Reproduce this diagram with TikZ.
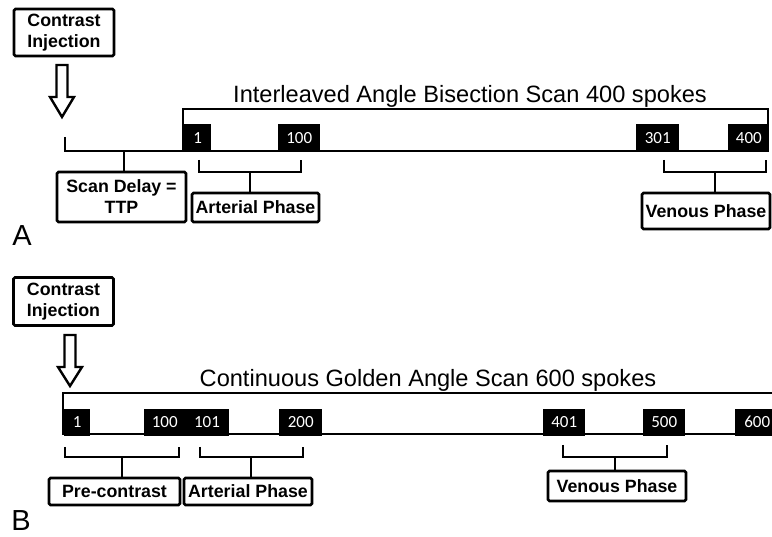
\documentclass[tikz,border=0pt]{standalone}
\usepackage{fontspec}
\setmainfont{Liberation Sans}
\newfontfamily\numfont{Carlito}
\begin{document}
\begin{tikzpicture}[x=1pt,y=-1pt,line width=2.6pt,
  lbl/.style={draw,line width=2.6pt,rounded corners=1.5pt,align=center,inner sep=0pt,
    font=\fontsize{17.8}{21}\selectfont\bfseries},
  blk/.style={fill=black,text=white,inner sep=0pt,anchor=north west,
    font=\numfont\fontsize{17}{17}\selectfont},
  ttl/.style={font=\fontsize{23.6}{25}\selectfont,anchor=base,inner sep=0pt},
  panel/.style={font=\fontsize{29}{30}\selectfont,inner sep=0pt},
  brk/.style={line width=2.6pt},
  hollow/.style={draw,fill=white,line width=2.4pt,line join=miter}]
\useasboundingbox (0,0) rectangle (772,537);
\fill[white] (0,0) rectangle (772,537);

% ---------------- Panel A ----------------
\node[lbl,minimum width=100,minimum height=47] (ciA) at (64,32.5) {Contrast\\Injection};
\draw[hollow] (56.5,65) -- (67.5,65) -- (67.5,97) -- (74,97) -- (62,117) -- (50,97) -- (56.5,97) -- cycle;

\node[ttl] (ttlA) at (470,103) {Interleaved Angle Bisection Scan 400 spokes};
\draw (183,151) -- (183,109) -- (768,109) -- (768,151);
\draw (65,137) -- (65,151) -- (768,151);
\node[blk,minimum width=27,minimum height=28] (a1) at (183,123) {1};
\node[blk,minimum width=42,minimum height=28] (a100) at (277,123) {100};
\node[blk,minimum width=43,minimum height=28] (a301) at (635,123) {301};
\node[blk,minimum width=41,minimum height=28] (a400) at (727,123) {400};

\node[lbl,minimum width=129,minimum height=50] (sd) at (121.5,197) {Scan Delay =\\TTP};
\node[lbl,minimum width=127,minimum height=29] (artA) at (255.5,207.5) {Arterial Phase};
\node[lbl,minimum width=128,minimum height=36] (venA) at (706,211) {Venous Phase};

\coordinate (sdc) at (124,151);
\draw[brk] (sdc) -- (sdc |- sd.north);
\coordinate (artAc) at (250,172);
\draw[brk] (199,160) -- (199,172) -- (301,172) -- (301,160);
\draw[brk] (artAc) -- (artAc |- artA.north);
\coordinate (venAc) at (715,172);
\draw[brk] (664,160) -- (664,172) -- (766,172) -- (766,160);
\draw[brk] (venAc) -- (venAc |- venA.north);

\node[panel] (pA) at (22,236) {A};

% ---------------- Panel B ----------------
\node[lbl,minimum width=100,minimum height=48] (ciB) at (63.5,301.5) {Contrast\\Injection};
\draw[hollow] (64.5,335) -- (75.5,335) -- (75.5,367) -- (82,367) -- (70,386) -- (58,367) -- (64.5,367) -- cycle;

\node[ttl] (ttlB) at (428,387) {Continuous Golden Angle Scan 600 spokes};
\draw (772,393) -- (63,393) -- (63,434) -- (772,434);
\node[blk,minimum width=26,minimum height=27] (b1) at (63,407.5) {1};
\node[blk,minimum width=41,minimum height=27] (b100) at (143,407.5) {100};
\node[blk,minimum width=44.5,minimum height=27] (b101) at (183.5,407.5) {101};
\node[blk,minimum width=43,minimum height=27] (b200) at (278,407.5) {200};
\node[blk,minimum width=42,minimum height=27] (b401) at (542,407.5) {401};
\node[blk,minimum width=42,minimum height=27] (b500) at (642,407.5) {500};
\node[blk,minimum width=44,minimum height=27] (b600) at (734,407.5) {600};

\node[lbl,minimum width=131,minimum height=27] (pre) at (114.5,491.5) {Pre-contrast};
\node[lbl,minimum width=128,minimum height=27] (artB) at (248,491.5) {Arterial Phase};
\node[lbl,minimum width=138,minimum height=30] (venB) at (617,486) {Venous Phase};

\coordinate (prec) at (122,457);
\draw[brk] (65,447) -- (65,457) -- (179,457) -- (179,447);
\draw[brk] (prec) -- (prec |- pre.north);
\coordinate (artBc) at (251,457);
\draw[brk] (200,447) -- (200,457) -- (303,457) -- (303,447);
\draw[brk] (artBc) -- (artBc |- artB.north);
\coordinate (venBc) at (615,457);
\draw[brk] (563,445) -- (563,457) -- (667,457) -- (667,445);
\draw[brk] (venBc) -- (venBc |- venB.north);

\node[panel] (pB) at (21,521) {B};
\end{tikzpicture}
\end{document}
